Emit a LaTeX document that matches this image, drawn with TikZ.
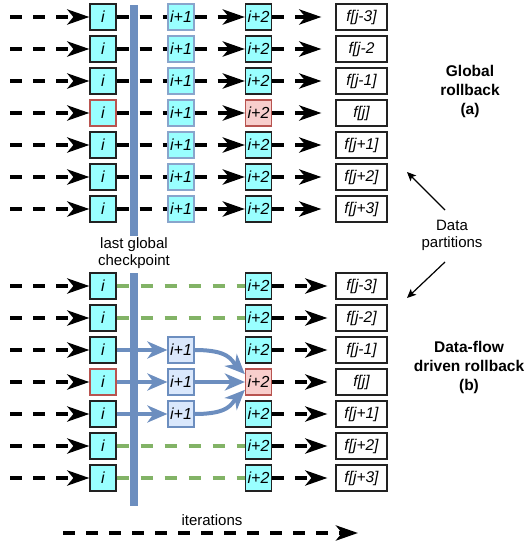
\documentclass[tikz,border=0pt]{standalone}
\usepackage{fontspec}
\setmainfont{Liberation Sans}
\usetikzlibrary{arrows.meta}
\definecolor{cyanf}{HTML}{99FFFF}
\definecolor{redf}{HTML}{F8CECC}
\definecolor{redb}{HTML}{B85450}
\definecolor{bluef}{HTML}{DAE8FC}
\definecolor{blueb}{HTML}{6C8EBF}
\definecolor{greenl}{HTML}{82B366}
\definecolor{darkb}{HTML}{222222}
\begin{document}
\begin{tikzpicture}[x=1pt,y=-1pt,
  box/.style={draw, line width=1.2pt, minimum width=26pt, minimum height=26pt, inner sep=0pt, font=\fontsize{16}{18}\selectfont\itshape},
  cbox/.style={box, fill=cyanf, draw=darkb},
  rcbox/.style={box, fill=cyanf, draw=redb},
  rbox/.style={box, fill=redf, draw=redb},
  tbbox/.style={box, fill=cyanf, draw=blueb!80},
  bbox/.style={box, fill=bluef, draw=blueb},
  fbox/.style={draw=darkb, line width=1.2pt, fill=white, minimum width=51pt, minimum height=26pt, inner sep=0pt, font=\fontsize{15.5}{18}\selectfont\itshape},
  darr/.style={line width=4pt, dash pattern=on 12pt off 11pt, -{Stealth[length=22pt,width=15pt,inset=6pt]}},
  dline/.style={line width=4pt, dash pattern=on 12pt off 11pt},
  gline/.style={line width=3.5pt, greenl, dash pattern=on 12pt off 12pt},
  barr/.style={line width=4pt, blueb, -{Stealth[length=20pt,width=17pt,inset=6pt]}},
  thinarr/.style={line width=1.2pt, -{Stealth[length=9pt,width=8pt,inset=2pt]}},
  lbl/.style={align=center, font=\fontsize{15}{17}\selectfont},
  blbl/.style={align=center, font=\fontsize{15.5}{19}\selectfont\bfseries}
]
\useasboundingbox (0,0) rectangle (525,548);
% top section
\foreach \k/\sa/\sc/\lab in {1/cbox/cbox/{f[j-3]},2/cbox/cbox/{f[j-2},3/cbox/cbox/{f[j-1]},4/rcbox/rbox/{f[j]},5/cbox/cbox/{f[j+1]},6/cbox/cbox/{f[j+2]},7/cbox/cbox/{f[j+3]}}{
  \pgfmathsetmacro\yy{17+32*(\k-1)}
  \node[\sa] (ta\k) at (103,\yy) {i};
  \node[tbbox] (tb\k) at (181,\yy) {i+1};
  \node[\sc] (tc\k) at (258.5,\yy) {i+2};
  \node[fbox] (tf\k) at (361.5,\yy) {\lab};
  \coordinate (ts\k) at (10,\yy);
  \draw[darr] (ts\k) -- (ta\k);
  \draw[dline] (ta\k) -- (tb\k);
  \draw[darr] (tb\k) -- (tc\k);
  \draw[darr, shorten >=14pt] (tc\k) -- (tf\k);
}
% bottom section
\foreach \k/\sa/\sc/\lab in {1/cbox/cbox/{f[j-3]},2/cbox/cbox/{f[j-2]},3/cbox/cbox/{f[j-1]},4/rcbox/rbox/{f[j]},5/cbox/cbox/{f[j+1]},6/cbox/cbox/{f[j+2]},7/cbox/cbox/{f[j+3]}}{
  \pgfmathsetmacro\yy{286+32*(\k-1)}
  \node[\sa] (ba\k) at (103,\yy) {i};
  \node[\sc] (bc\k) at (258.5,\yy) {i+2};
  \node[fbox] (bf\k) at (361.5,\yy) {\lab};
  \coordinate (bs\k) at (10,\yy);
  \draw[darr] (bs\k) -- (ba\k);
  \draw[darr, shorten >=8pt] (bc\k) -- (bf\k);
}
\foreach \k in {1,2,6,7}{
  \draw[gline] (ba\k) -- (bc\k);
}
\foreach \k in {3,4,5}{
  \pgfmathsetmacro\yy{286+32*(\k-1)}
  \node[bbox] (bb\k) at (181,\yy) {i+1};
  \draw[barr] (ba\k) -- (bb\k);
}
\draw[barr] (bb3.east) .. controls +(35,0) and +(-14,-14) .. (bc4.150);
\draw[barr] (bb4) -- (bc4);
\draw[barr] (bb5.east) .. controls +(35,0) and +(-14,14) .. (bc4.210);
% checkpoint bars
\fill[blueb] (130,5) rectangle (138,236);
\fill[blueb] (130,273) rectangle (138,506);
\node[lbl] (cp) at (134,253.5) {last global\\checkpoint};
% right labels
\node[blbl] (ga) at (470,91) {Global\\rollback\\(a)};
\node[blbl] (gb) at (469,367) {Data-flow\\driven rollback\\(b)};
\node[lbl] (dp) at (452,235) {Data\\partitions};
\coordinate (dps1) at (445,210);
\coordinate (dpa) at (407,172);
\coordinate (dps2) at (445,262);
\coordinate (dpb) at (407,298);
\draw[thinarr] (dps1) -- (dpa);
\draw[thinarr] (dps2) -- (dpb);
% iterations
\node[lbl] (it) at (212,520) {iterations};
\coordinate (it1) at (63,533);
\coordinate (it2) at (358,533);
\draw[darr] (it1) -- (it2);
\end{tikzpicture}
\end{document}
